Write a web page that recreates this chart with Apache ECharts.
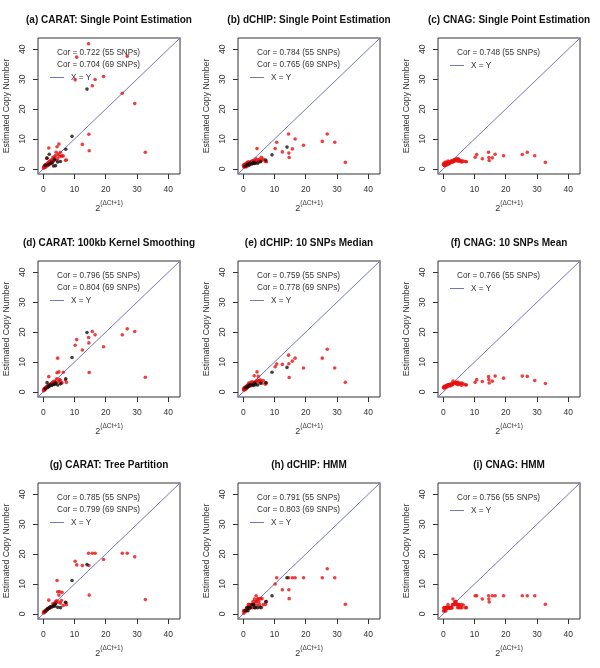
<!DOCTYPE html>
<html><head><meta charset="utf-8">
<script src="https://cdn.jsdelivr.net/npm/echarts@6/dist/echarts.min.js"></script>
<style>html,body{margin:0;padding:0;background:#fff}#c{width:600px;height:668px}</style>
</head><body><div id="c"></div>
<script>
// ---------- data ----------
const panelTitles = [
  "(a) CARAT: Single Point Estimation", "(b) dCHIP: Single Point Estimation", "(c) CNAG: Single Point Estimation",
  "(d) CARAT: 100kb Kernel Smoothing", "(e) dCHIP: 10 SNPs Median", "(f) CNAG: 10 SNPs Mean",
  "(g) CARAT: Tree Partition", "(h) dCHIP: HMM", "(i) CNAG: HMM"
];
const corTexts = [
  ["Cor = 0.722 (55 SNPs)", "Cor = 0.704 (69 SNPs)"],
  ["Cor = 0.784 (55 SNPs)", "Cor = 0.765 (69 SNPs)"],
  ["Cor = 0.748 (55 SNPs)"],
  ["Cor = 0.796 (55 SNPs)", "Cor = 0.804 (69 SNPs)"],
  ["Cor = 0.759 (55 SNPs)", "Cor = 0.778 (69 SNPs)"],
  ["Cor = 0.766 (55 SNPs)"],
  ["Cor = 0.785 (55 SNPs)", "Cor = 0.799 (69 SNPs)"],
  ["Cor = 0.791 (55 SNPs)", "Cor = 0.803 (69 SNPs)"],
  ["Cor = 0.756 (55 SNPs)"]
];
const legendLineText = "X = Y";
const xAxisTitle = "2";
const xAxisSup = "(\u0394Ct+1)";
const yAxisTitle = "Estimated Copy Number";
const tickValues = [0, 10, 20, 30, 40];
const axisMin = -1.7, axisMax = 43.8;
const identityLine = [[-5, -5], [50, 50]];

// 55 SNPs (red): x = 2^(dCt+1)
const redX = [0.05, 0.2, 0.25, 0.3, 0.45, 0.5, 0.7, 0.8, 0.95, 1.0, 1.1, 1.3, 1.35, 1.5, 1.6, 1.75, 1.8, 2.0, 2.1, 2.3, 2.4,
  2.6, 2.8, 2.9, 3.1, 3.2, 3.5, 3.6, 3.9, 4.1, 4.3, 4.4, 4.6, 4.8, 5.0, 5.2, 5.5, 5.8, 6.0, 6.4, 7.1, 7.4,
  10.2, 10.7, 12.5, 14.5, 14.6, 14.7, 15.7, 16.6, 19.3, 25.3, 26.9, 29.3, 32.7];
// 14 extra SNPs (black)
const blackX = [0.6, 1.2, 1.5, 1.9, 2.2, 2.8, 3.3, 3.6, 3.9, 4.6, 5.5, 7.2, 9.2, 14.0];

const redA = [0.3, 0.5, 0.9, 0.4, 0.8, 1.2, 0.6, 1.5, 1.0, 1.3, 3.6, 1.8, 1.1, 1.6, 2.2, 7.0, 1.4, 2.5, 1.9, 2.8, 1.7,
  2.3, 3.1, 2.0, 3.9, 2.6, 3.3, 4.0, 4.5, 5.6, 2.9, 7.4, 3.5, 5.0, 8.3, 4.3, 5.6, 4.2, 4.4, 4.3, 2.9, 3.0,
  29.8, 37.4, 8.2, 41.9, 11.6, 6.1, 27.8, 29.9, 30.9, 25.3, 37.7, 21.9, 5.6];
const redB = [1.2, 0.6, 1.5, 0.9, 1.3, 0.8, 1.6, 1.1, 0.7, 1.9, 1.4, 2.2, 1.0, 1.7, 2.0, 1.3, 2.4, 1.5, 1.8, 2.1, 1.6,
  2.5, 1.9, 2.7, 1.8, 2.3, 2.9, 2.0, 2.6, 3.4, 2.2, 6.8, 3.0, 2.4, 2.8, 3.2, 2.6, 3.9, 2.9, 3.2, 2.5, 2.4,
  6.8, 8.9, 5.7, 11.7, 5.3, 3.8, 6.7, 10.0, 7.9, 9.2, 11.7, 8.9, 2.2];
const redC = [1.6, 1.2, 2.0, 1.4, 1.8, 1.1, 2.3, 1.5, 1.9, 1.7, 1.3, 2.1, 1.8, 2.6, 1.6, 2.0, 2.2, 1.9, 2.4, 2.1, 2.3,
  2.7, 2.2, 2.5, 2.9, 2.4, 2.6, 3.1, 2.8, 3.3, 2.7, 3.0, 3.5, 2.6, 3.2, 2.9, 2.4, 2.7, 2.3, 2.6, 2.5, 2.4,
  3.9, 4.8, 3.4, 5.6, 3.8, 2.8, 3.7, 4.9, 4.4, 4.8, 5.6, 4.4, 2.2];
const redD = [0.4, 0.7, 1.0, 0.5, 1.2, 0.9, 1.4, 1.1, 1.6, 1.3, 1.8, 1.5, 2.0, 1.7, 2.2, 5.1, 1.9, 2.4, 2.1, 2.6, 2.3,
  2.8, 2.5, 3.1, 2.7, 3.4, 3.0, 3.6, 3.3, 2.9, 4.4, 6.4, 11.3, 3.5, 6.7, 4.1, 3.8, 3.1, 3.0, 6.6, 4.0, 3.2,
  15.6, 17.5, 14.0, 18.2, 16.4, 6.5, 20.2, 19.1, 15.1, 19.1, 21.1, 20.2, 4.9];
const redE = [1.0, 0.6, 1.4, 0.8, 1.2, 1.5, 0.9, 1.7, 1.1, 1.9, 1.3, 2.1, 1.6, 2.4, 1.8, 3.0, 2.2, 1.9, 2.6, 2.3, 3.2,
  2.1, 2.8, 3.4, 2.5, 3.0, 5.4, 3.2, 2.9, 3.6, 3.3, 6.7, 3.9, 5.2, 3.5, 3.8, 4.0, 3.4, 2.9, 3.8, 2.6, 3.0,
  8.4, 9.3, 9.2, 12.3, 9.4, 4.8, 10.3, 11.3, 8.0, 11.3, 14.3, 8.0, 3.2];
const redF = [1.5, 1.3, 1.8, 1.6, 1.4, 2.0, 1.7, 1.5, 1.9, 2.1, 1.8, 2.3, 2.0, 2.2, 2.4, 2.1, 2.5, 2.3, 2.0, 2.6, 2.4,
  2.2, 2.8, 2.5, 3.6, 2.7, 3.0, 2.9, 3.2, 3.1, 2.8, 2.6, 3.3, 2.4, 3.0, 2.7, 2.9, 2.2, 3.0, 2.6, 2.4, 2.3,
  3.2, 4.1, 3.5, 5.1, 4.1, 3.0, 3.6, 5.3, 4.6, 5.3, 5.2, 3.8, 2.8];
const redG = [0.3, 0.6, 0.8, 0.5, 1.0, 0.7, 1.1, 0.9, 1.3, 1.2, 1.5, 1.4, 1.7, 1.6, 1.9, 4.6, 1.8, 2.1, 2.0, 2.3, 2.2,
  2.5, 2.4, 2.6, 3.5, 2.8, 3.3, 3.0, 4.1, 3.8, 4.4, 11.2, 7.4, 4.0, 6.3, 7.4, 3.6, 4.5, 7.2, 2.8, 3.9, 3.1,
  17.6, 16.4, 16.2, 20.3, 16.2, 6.3, 20.3, 20.3, 18.2, 20.3, 20.3, 19.1, 4.8];
const redH = [1.0, 0.2, 1.0, 1.1, 1.0, 1.1, 1.1, 1.0, 1.2, 2.0, 1.1, 2.1, 2.0, 2.1, 3.1, 2.0, 3.1, 2.1, 2.0, 3.1, 2.1,
  3.1, 3.0, 2.1, 4.1, 3.1, 3.1, 5.0, 4.1, 6.1, 4.1, 3.0, 5.0, 5.1, 4.1, 3.1, 5.1, 2.1, 5.1, 3.1, 3.2, 4.1,
  10.0, 12.1, 8.1, 12.1, 8.1, 5.1, 12.1, 12.1, 12.1, 12.1, 15.1, 12.1, 3.2];
const redI = [1.0, 2.0, 2.1, 1.1, 2.0, 1.1, 2.1, 1.0, 2.1, 2.1, 2.0, 2.1, 2.0, 3.1, 2.1, 2.1, 2.0, 2.1, 2.1, 2.0, 2.1,
  2.1, 2.0, 3.1, 5.0, 3.1, 3.1, 4.0, 4.1, 4.1, 3.1, 3.1, 2.1, 3.1, 2.1, 3.1, 2.1, 3.1, 2.1, 3.0, 2.1, 2.1,
  6.1, 6.1, 5.0, 6.1, 5.0, 4.0, 6.1, 6.1, 6.1, 6.1, 6.1, 6.1, 3.2];

const blackA = [1.2, 3.6, 1.4, 4.9, 1.8, 2.2, 1.0, 3.1, 1.1, 2.3, 2.5, 6.6, 10.9, 26.7];
const blackB = [0.9, 1.4, 1.6, 1.3, 1.9, 1.7, 2.1, 1.8, 2.0, 1.9, 2.4, 3.0, 4.7, 7.3];
const blackD = [1.1, 3.1, 1.6, 2.0, 2.4, 2.2, 2.6, 2.5, 3.0, 2.3, 2.7, 4.4, 11.5, 19.9];
const blackE = [1.3, 1.6, 1.9, 2.1, 2.5, 2.3, 2.2, 3.0, 2.4, 2.3, 2.9, 3.1, 6.6, 8.2];
const blackG = [0.9, 1.5, 1.8, 2.0, 2.3, 2.4, 2.8, 2.6, 3.3, 2.2, 2.1, 3.8, 11.2, 16.5];
const blackH = [1.1, 2.1, 1.1, 2.1, 2.1, 3.1, 3.1, 2.1, 2.1, 2.1, 2.2, 4.1, 6.1, 12.1];

const redYs = [redA, redB, redC, redD, redE, redF, redG, redH, redI];
const blackYs = [blackA, blackB, null, blackD, blackE, null, blackG, blackH, null];

// ---------- layout / style ----------
const FONT = "'Liberation Sans', Arial, sans-serif";
const TXT = '#333';
const boxLeft = [38, 238, 438];
const boxTop = [38, 261, 483];
const boxW = 142, boxH = 136;
const lineColor = '#7676be';

const grids = [], xAxes = [], yAxes = [], series = [], graphics = [];
for (let i = 0; i < 9; i++) {
  const col = i % 3, row = Math.floor(i / 3);
  const L = boxLeft[col], T = boxTop[row];
  grids.push({left: L, top: T, width: boxW, height: boxH, show: true, borderColor: '#333', borderWidth: 1, backgroundColor: 'transparent'});
  xAxes.push({
    gridIndex: i, type: 'value', min: axisMin, max: axisMax,
    splitLine: {show: false}, axisLine: {show: false, onZero: false},
    axisTick: {show: true, inside: false, length: 5, customValues: tickValues, lineStyle: {color: '#333'}},
    axisLabel: {customValues: tickValues, margin: 11.5, fontSize: 8.5, color: TXT, fontFamily: FONT},
    name: '{b|' + xAxisTitle + '}{s|' + xAxisSup + '}', nameLocation: 'middle', nameGap: 26,
    nameTextStyle: {rich: {
      b: {fontSize: 9, fontFamily: FONT, color: TXT, verticalAlign: 'bottom', lineHeight: 13},
      s: {fontSize: 6.5, fontFamily: FONT, color: TXT, verticalAlign: 'top', lineHeight: 13}
    }}
  });
  yAxes.push({
    gridIndex: i, type: 'value', min: axisMin, max: axisMax,
    splitLine: {show: false}, axisLine: {show: false, onZero: false},
    axisTick: {show: true, inside: false, length: 5, customValues: tickValues, lineStyle: {color: '#333'}},
    axisLabel: {customValues: tickValues, margin: 11, fontSize: 8.5, color: TXT, fontFamily: FONT, rotate: 90},
    name: yAxisTitle, nameLocation: 'middle', nameGap: 26.5, nameRotate: 90,
    nameTextStyle: {fontSize: 8.7, color: TXT, fontFamily: FONT}
  });
  series.push({
    type: 'line', xAxisIndex: i, yAxisIndex: i, data: identityLine, symbol: 'none', clip: true, silent: true,
    lineStyle: {color: lineColor, width: 1}, z: 1
  });
  series.push({
    type: 'scatter', xAxisIndex: i, yAxisIndex: i, symbolSize: 3.6, silent: true,
    data: redX.map((x, j) => [x, redYs[i][j]]), itemStyle: {color: '#e81010'}, z: 2
  });
  if (blackYs[i]) series.push({
    type: 'scatter', xAxisIndex: i, yAxisIndex: i, symbolSize: 3.6, silent: true,
    data: blackX.map((x, j) => [x, blackYs[i][j]]), itemStyle: {color: '#111'}, z: 3
  });
  // title
  graphics.push({type: 'text', x: L + boxW / 2, y: T - 18, style: {text: panelTitles[i], fill: '#111', font: 'bold 10px ' + FONT, align: 'center', verticalAlign: 'middle'}});
  // legend texts
  const cors = corTexts[i];
  cors.forEach((t, k) => graphics.push({type: 'text', x: L + 19, y: T + 15 + k * 12, style: {text: t, fill: TXT, font: '8.2px ' + FONT, align: 'left', verticalAlign: 'middle'}}));
  const ly = T + 15 + cors.length * 12 + 0.5;
  graphics.push({type: 'line', shape: {x1: L + 12, y1: ly, x2: L + 26, y2: ly}, style: {stroke: lineColor, lineWidth: 1}});
  graphics.push({type: 'text', x: L + 33, y: ly, style: {text: legendLineText, fill: TXT, font: '8.2px ' + FONT, align: 'left', verticalAlign: 'middle'}});
}

const chart = echarts.init(document.getElementById('c'), null, {renderer: 'canvas'});
chart.setOption({
  animation: false, backgroundColor: '#fff',
  grid: grids, xAxis: xAxes, yAxis: yAxes, series: series, graphic: graphics
});
</script>
</body></html>
